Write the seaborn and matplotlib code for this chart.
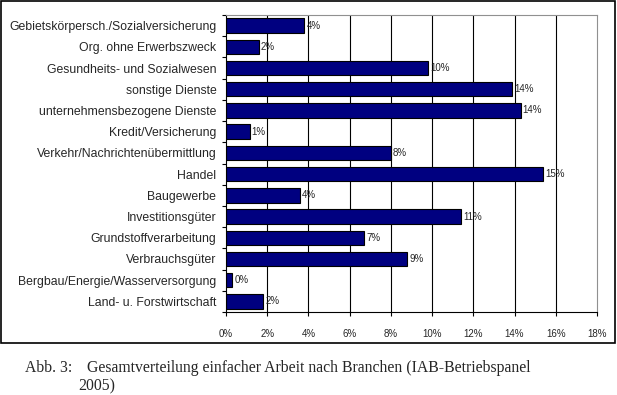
import matplotlib
matplotlib.use("Agg")
import matplotlib.pyplot as plt
import seaborn as sns
import pandas as pd
import numpy as np

branchen = [
    "Gebietskörpersch./Sozialversicherung",
    "Org. ohne Erwerbszweck",
    "Gesundheits- und Sozialwesen",
    "sonstige Dienste",
    "unternehmensbezogene Dienste",
    "Kredit/Versicherung",
    "Verkehr/Nachrichtenübermittlung",
    "Handel",
    "Baugewerbe",
    "Investitionsgüter",
    "Grundstoffverarbeitung",
    "Verbrauchsgüter",
    "Bergbau/Energie/Wasserversorgung",
    "Land- u. Forstwirtschaft",
]
anteil = [3.8, 1.6, 9.8, 13.9, 14.3, 1.15, 8.0, 15.4, 3.6, 11.4, 6.7, 8.8, 0.3, 1.8]
x_ticks = [0, 2, 4, 6, 8, 10, 12, 14, 16, 18]

df = pd.DataFrame({"branche": branchen, "anteil": anteil})

sns.set_theme(style="white")
plt.rcParams["font.family"] = ["Liberation Sans", "DejaVu Sans"]

fig = plt.figure(figsize=(6.17, 3.95), dpi=100)
ax = fig.add_axes([226 / 617, 1 - 312 / 395, 371 / 617, 297 / 395])

sns.barplot(data=df, x="anteil", y="branche", orient="h", color="#000080",
            saturation=1, edgecolor="black", linewidth=0.8, width=0.68, ax=ax)

ax.set_xlim(0, 18)
ax.set_ylim(len(branchen) - 0.5, -0.5)
ax.set_xticks(x_ticks)
ax.set_xticklabels([f"{t}%" for t in x_ticks], fontsize=7)
ax.set_xlabel("")
ax.set_ylabel("")
ax.tick_params(axis="x", length=3, width=0.8, color="black", direction="out", pad=9, bottom=True)
ax.tick_params(axis="y", which="major", length=0, labelsize=8.85, pad=7)
ax.set_yticks(np.arange(-0.5, len(branchen), 1), minor=True)
ax.tick_params(axis="y", which="minor", length=3, width=0.8, color="black", left=True)

ax.grid(False)
for t in x_ticks[1:-1]:
    ax.axvline(t, color="black", linewidth=0.8, zorder=0)

for side in ["left", "bottom"]:
    ax.spines[side].set_color("black")
    ax.spines[side].set_linewidth(0.8)
for side in ["top", "right"]:
    ax.spines[side].set_color("#909090")
    ax.spines[side].set_linewidth(0.8)

for i, v in enumerate(anteil):
    ax.text(v + 0.1, i, f"{round(v):.0f}%", va="center", ha="left", fontsize=7)

# outer frame of the chart object
fig.patches.append(plt.Rectangle((1 / 617, 1 - 343 / 395), 614 / 617, 342 / 395,
                                 transform=fig.transFigure, fill=False,
                                 edgecolor="black", linewidth=1.2))

cap = dict(family="Liberation Serif", fontsize=11.3, va="baseline")
fig.text(25 / 617, 1 - 372 / 395, "Abb. 3:", **cap)
fig.text(87 / 617, 1 - 372 / 395,
         "Gesamtverteilung einfacher Arbeit nach Branchen (IAB-Betriebspanel", **cap)
fig.text(78 / 617, 1 - 390 / 395, "2005)", **cap)

fig.savefig("out.png", dpi=100)
